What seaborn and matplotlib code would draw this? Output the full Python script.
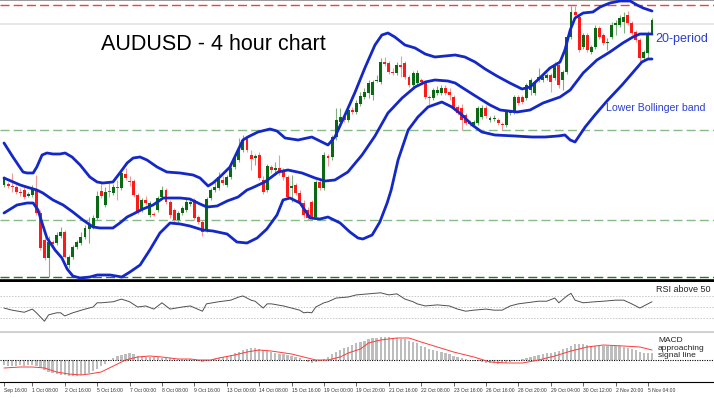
import matplotlib
matplotlib.use("Agg")
import matplotlib.pyplot as plt
import seaborn as sns
import numpy as np

# 4h candles, prices as pips above 0.7000
opens = [115, 116, 114, 113, 108, 110, 104, 105, 111, 87,
         60, 42, 58, 57, 64, 68, 35, 43, 53, 57,
         63, 71, 73, 82, 109, 95, 109, 107, 113, 112,
         126, 119, 119, 105, 90, 100, 85, 86, 90, 103,
         110, 98, 90, 80, 87, 90, 96, 100, 83, 78,
         70, 102, 110, 112, 120, 115, 123, 133, 140, 150,
         161, 145, 142, 145, 120, 110, 133, 130, 132, 130,
         123, 112, 115, 107, 97, 90, 98, 83, 118, 112,
         144, 143, 163, 178, 183, 180, 190, 188, 196, 203,
         207, 205, 219, 218, 238, 237, 228, 227, 235, 237,
         223, 215, 217, 220, 217, 203, 202, 207, 207, 212,
         208, 203, 193, 192, 185, 178, 175, 177, 183, 192,
         180, 181, 180, 176, 175, 187, 188, 203, 203, 202,
         210, 207, 220, 220, 222, 225, 222, 235, 220, 228,
         263, 288, 283, 253, 265, 248, 253, 272, 265, 257,
         263, 275, 275, 278, 285, 277, 268, 260, 242, 247,
         267]
closes = [122, 114, 113, 108, 107, 103, 106, 112, 87, 52,
          42, 58, 56, 65, 68, 43, 43, 53, 58, 63,
          72, 76, 82, 104, 104, 108, 108, 113, 112, 127,
          122, 118, 105, 88, 100, 97, 97, 85, 102, 110,
          98, 85, 80, 87, 92, 98, 98, 82, 78, 68,
          101, 110, 113, 123, 117, 123, 132, 142, 151, 160,
          150, 141, 144, 122, 108, 134, 130, 132, 128, 123,
          103, 114, 107, 97, 85, 82, 83, 118, 112, 145,
          142, 163, 180, 183, 180, 190, 188, 197, 204, 208,
          217, 218, 220, 238, 236, 228, 227, 235, 233, 223,
          215, 227, 227, 218, 203, 202, 210, 210, 212, 207,
          205, 192, 187, 180, 177, 176, 178, 192, 192, 184,
          182, 182, 177, 175, 188, 188, 203, 197, 198, 215,
          220, 218, 223, 223, 225, 218, 235, 215, 228, 263,
          288, 285, 250, 265, 250, 253, 272, 263, 257, 258,
          275, 277, 282, 283, 277, 267, 260, 242, 248, 267,
          280]
highs = [124, 118, 127, 115, 112, 113, 108, 115, 125, 90,
         62, 64, 60, 68, 73, 70, 45, 55, 60, 68,
         75, 83, 85, 109, 118, 113, 117, 116, 120, 130,
         132, 124, 121, 107, 102, 104, 99, 88, 104, 114,
         112, 100, 92, 89, 94, 101, 101, 102, 85, 80,
         103, 112, 121, 128, 124, 125, 134, 145, 162, 165,
         164, 150, 146, 148, 124, 136, 135, 138, 145, 132,
         125, 125, 117, 110, 100, 93, 100, 120, 120, 148,
         146, 165, 192, 192, 187, 192, 193, 200, 208, 212,
         220, 220, 225, 242, 243, 239, 232, 238, 244, 239,
         225, 229, 230, 222, 219, 205, 212, 214, 215, 215,
         212, 205, 195, 196, 187, 180, 180, 194, 195, 195,
         184, 185, 182, 178, 190, 190, 205, 205, 205, 217,
         222, 220, 232, 225, 227, 227, 238, 237, 230, 265,
         294, 294, 285, 267, 267, 255, 275, 274, 267, 262,
         278, 280, 285, 288, 289, 279, 270, 262, 250, 269,
         282]
lows = [113, 112, 108, 106, 104, 101, 103, 103, 85, 50,
        40, 23, 54, 55, 62, 42, 32, 41, 51, 55,
        61, 57, 71, 80, 102, 93, 103, 105, 100, 110,
        120, 114, 103, 86, 88, 95, 83, 84, 88, 101,
        96, 82, 78, 78, 85, 88, 94, 80, 76, 64,
        68, 100, 108, 110, 115, 113, 121, 131, 138, 148,
        148, 130, 135, 120, 106, 108, 127, 125, 125, 120,
        101, 98, 105, 95, 82, 80, 81, 81, 110, 110,
        134, 140, 160, 176, 178, 178, 186, 186, 194, 201,
        202, 200, 218, 216, 234, 226, 225, 225, 223, 221,
        213, 213, 215, 216, 201, 195, 200, 205, 205, 205,
        200, 190, 185, 170, 175, 174, 173, 175, 181, 182,
        178, 179, 175, 170, 173, 185, 186, 195, 196, 200,
        205, 205, 218, 218, 220, 208, 220, 212, 210, 226,
        261, 283, 248, 251, 248, 246, 251, 261, 255, 250,
        261, 265, 273, 267, 275, 265, 258, 238, 240, 242,
        265]

# Bollinger bands, read at candle positions
upper_idx = [0, 2.2, 4.7, 5.7, 7.2, 8.1, 9.4, 10.6, 12.1, 13.8, 15.1, 16.8, 18.8, 21.2, 23, 24.4,
             26.9, 28.6, 30.4, 31.9, 33.6, 35.3, 37.8, 40.2, 43.5, 46.7, 48.4, 50.4, 51.6, 53.3,
             55.8, 57.8, 59, 60.2, 62.7, 65.7, 67.4, 69.4, 72.6, 76, 78.5, 80, 81.7, 84.2, 86.7,
             89.1, 91.6, 93.3, 94.8, 96.5, 99, 101.5, 104, 106.4, 108.9, 111.4, 113.8, 116.3,
             118.8, 121.7, 124.9, 127.9, 129.9, 132.3, 134.8, 137.3, 138.5, 139.8, 141, 143,
             145.4, 147.2, 149.6, 152.1, 154.6, 156.3, 157.8, 160]
upper_pips = [157, 143, 128, 127, 127, 133, 145, 147, 146, 146, 147, 143, 135, 123, 118, 117,
              118, 127, 137, 142, 143, 140, 133, 128, 127, 125, 122, 114, 117, 123,
              133, 150, 160, 163, 168, 171, 169, 162, 160, 163, 158, 155, 163, 185, 208,
              232, 255, 265, 267, 263, 255, 252, 246, 243, 244, 245, 243, 238,
              231, 224, 217, 211, 213, 222, 232, 238, 250, 270, 282, 287,
              288, 293, 297, 299, 299, 295, 292, 289]
mid_idx = [0, 4, 6.4, 8.1, 9.6, 12.1, 14.6, 17, 19.5, 22, 23.7, 26.9, 28.6, 30.4, 31.9, 34.3,
           36.8, 39.3, 41, 43.5, 45.9, 48.4, 50.1, 52.6, 55.1, 57.8, 60, 61.2, 64.4, 67.7,
           70.1, 73.6, 76.8, 79.3, 81.7, 84.9, 88.4, 91.6, 94.8, 98.3, 101.5, 104, 106.4,
           109.6, 111.4, 113.3, 116.8, 120, 122.5, 126.7, 129.9, 133.1, 137.3, 139.8, 143,
           146.4, 149.6, 152.8, 155.3, 157, 160]
mid_pips = [122, 115, 112, 110, 107, 100, 95, 88, 80, 73, 72, 72, 77, 83, 86, 91,
            95, 102, 102, 102, 101, 96, 93, 94, 99, 103, 110, 112, 118, 128,
            130, 127, 122, 119, 120, 128, 145, 164, 187, 202, 213, 218, 220,
            219, 217, 212, 203, 195, 190, 188, 190, 197, 203, 210, 227,
            240, 248, 257, 263, 266, 266]
lower_idx = [0, 3.2, 5.7, 7.2, 8.4, 9.4, 10.6, 12.6, 14.3, 15.6, 17, 18.8, 21.2, 23, 26.2,
             29.1, 31.1, 33.6, 36, 38.5, 41, 43.5, 45.9, 49.1, 51.6, 55.1, 57.5, 60, 62.5,
             64.9, 67.4, 68.9, 70.6, 73.1, 75.6, 78, 80, 83, 85.4, 87.4, 88.6, 90.9, 92.8,
             94.6, 95.6, 97.3, 99.8, 102.2, 104.7, 108.1, 110.6, 113.1, 115.6, 118, 121.2,
             126.2, 130.4, 133.6, 136.8, 138.5, 139.8, 141, 143.5, 145.9, 149.1, 152.6,
             155.8, 157.5, 159, 160]
lower_pips = [87, 95, 97, 97, 90, 77, 62, 50, 42, 31, 24, 22, 23, 25, 25,
              23, 28, 35, 50, 67, 77, 76, 74, 70, 69, 66, 58, 57, 62,
              71, 85, 100, 102, 97, 82, 81, 83, 77, 68, 62, 61, 65, 78,
              97, 110, 140, 170, 183, 193, 198, 193, 185, 175, 168, 165,
              164, 163, 163, 164, 165, 160, 158, 173, 185, 200, 215,
              230, 238, 241, 241]

# RSI
rsi_idx = [0, 2, 5, 7, 8, 10, 11, 13, 14, 15, 17, 20, 22, 23, 24, 27, 29, 31, 33, 35, 37, 39, 41,
           44, 46, 49, 50, 53, 56, 58, 59, 61, 62, 64, 65, 66, 69, 71, 73, 74, 75, 76, 77, 79,
           80, 82, 85, 87, 90, 93, 95, 97, 99, 101, 102, 104, 107, 110, 112, 114, 116, 119,
           121, 123, 125, 127, 129, 132, 134, 136, 137, 139, 140, 141, 143, 146, 148, 151,
           153, 155, 157, 158, 160]
rsi_vals = [48, 44, 40, 46, 39, 23, 35, 39, 39, 33, 39, 46, 50, 58, 58, 60, 65, 60, 50, 52, 46, 58, 46,
            50, 52, 42, 56, 60, 63, 69, 71, 63, 61, 48, 56, 56, 52, 48, 44, 39, 40, 39, 50, 58,
            60, 67, 69, 73, 75, 77, 73, 75, 65, 60, 56, 52, 54, 52, 46, 42, 44, 46,
            44, 44, 52, 56, 58, 61, 61, 67, 58, 71, 76, 63, 58, 60, 61, 63,
            63, 56, 48, 52, 60]

# MACD histogram (one bar per candle) and signal line
macd_hist = [-5, -6, -6, -6, -5, -6, -5, -5, -6,
             -8, -10, -12, -13, -14, -15, -15, -16, -16, -16, -15, -14, -13, -11, -9, -6, -4, -1,
             2, 4, 5, 6, 7, 6, 4, 4, 3, 3, 3, 3, 2, 2, 2, 1, 1, 1, 1, 1,
             0, -1, -2, -1, 0, 1, 2, 3, 4, 5,
             7, 8, 10, 11, 12, 12, 11, 10, 9, 8, 7, 6, 6, 5, 4, 3, 2, 0, -2, -3, -2, -1,
             1, 3, 6, 8, 10, 12, 13, 15, 17, 18, 19, 21, 22, 22, 23, 23, 23, 22, 22, 21, 21,
             19, 18, 17, 14, 13, 11, 10, 9, 8, 7, 6, 4, 3, 2, 1, 0, -1, -1, -2, -3, -3, -3, -4,
             -3, -3, -2, -1,
             0, 1, 2, 3, 4, 5, 6, 7, 7, 8, 9, 11, 12, 14, 16, 16, 16, 15, 14, 14, 14, 14, 14,
             14, 14, 14, 13, 12, 11, 10, 8, 7, 7, 7]
signal_idx = [0, 4, 7, 10, 13, 16, 19, 21, 24, 27, 30, 33, 36, 39, 43, 46, 48, 51, 53, 57, 60, 63,
              66, 71, 75, 77, 80, 83, 85, 88, 90, 93, 97, 100, 103, 107, 111, 116, 120, 124,
              128, 132, 136, 140, 144, 148, 153, 157, 160]
signal_vals = [-8, -7, -7, -8, -12, -14, -15, -14, -12, -6, 0, 3, 4, 3, 1, 1, 0, 0, 2, 5, 8, 10,
               9, 6, 2, 0, 0, 3, 7, 11, 17, 20, 22, 22, 18, 13, 8, 3, -2, -3,
               -3, 0, 4, 9, 13, 15, 14, 13, 10]

tick_idx = [0, 7, 15, 23, 31, 39, 47, 55, 63, 71, 79, 87, 95, 103, 111, 119, 127, 135, 143, 151, 159]
tick_labels = ["Sep 16:00", "1 Oct 08:00", "2 Oct 16:00", "5 Oct 16:00", "7 Oct 00:00",
               "8 Oct 08:00", "9 Oct 16:00", "13 Oct 00:00", "14 Oct 08:00", "15 Oct 16:00",
               "19 Oct 00:00", "19 Oct 20:00", "21 Oct 16:00", "22 Oct 08:00", "23 Oct 16:00",
               "26 Oct 16:00", "28 Oct 20:00", "29 Oct 04:00", "30 Oct 12:00", "2 Nov 20:00",
               "5 Nov 04:00"]

sns.set_theme(style="white")
plt.rcParams["font.family"] = ["Liberation Sans", "DejaVu Sans"]

GREEN = "#0a6a14"
RED = "#ff1a1a"
BLUE = "#1428c8"

fig = plt.figure(figsize=(7.14, 3.98), dpi=100)
ax = fig.add_axes([0, 1 - 281 / 398, 1, 281 / 398])
ax_rsi = fig.add_axes([0, 1 - 332 / 398, 1, 50 / 398])
ax_macd = fig.add_axes([0, 1 - 382 / 398, 1, 49 / 398])

xlim = (-4 / 4.05, 710 / 4.05)
idx = np.arange(len(closes))
o = np.array(opens)
c = np.array(closes)
up = c >= o

# reference levels
ax.axhline(295, color="#f04040", lw=1, dashes=(6.5, 3))
ax.axhline(276, color="#e4e4e4", lw=1.2)
ax.axhline(170, color="#88bb88", lw=1, dashes=(6.5, 3))
ax.axhline(80, color="#88bb88", lw=1, dashes=(6.5, 3))
ax.axhline(23, color="#2f6f2f", lw=1, dashes=(6.5, 3))

# candles
wick_cols = np.where(up, "#7fae7f", "#f29a9a")
ax.vlines(idx, lows, highs, colors=wick_cols, lw=0.8, zorder=2)
ax.bar(idx, np.abs(c - o), bottom=np.minimum(o, c), width=0.72,
       color=np.where(up, GREEN, RED), zorder=3, linewidth=0)

# bands
for bx, by in [(upper_idx, upper_pips), (mid_idx, mid_pips), (lower_idx, lower_pips)]:
    sns.lineplot(x=bx, y=by, ax=ax, color=BLUE, lw=2, zorder=4)

ax.set_xlim(*xlim)
ax.set_ylim(19, 300)
ax.set_xticks([])
ax.set_yticks([])
for s in ["left", "right"]:
    ax.spines[s].set_visible(False)
ax.spines["top"].set_color("#888888")
ax.spines["top"].set_linewidth(1.2)
ax.spines["bottom"].set_color("black")
ax.spines["bottom"].set_linewidth(2.6)

# RSI panel
for lvl in [70, 50, 30]:
    ax_rsi.axhline(lvl, color="#c8c8c8", lw=0.7, ls=(0, (1.5, 1.5)))
sns.lineplot(x=rsi_idx, y=rsi_vals, ax=ax_rsi, color="#505050", lw=0.7)
ax_rsi.set_xlim(*xlim)
ax_rsi.set_ylim(2.5, 97.5)
ax_rsi.set_xticks([])
ax_rsi.set_yticks([])
for s in ["left", "right", "top"]:
    ax_rsi.spines[s].set_visible(False)
ax_rsi.spines["bottom"].set_color("#cfcfcf")
ax_rsi.spines["bottom"].set_linewidth(2)

# MACD panel
ax_macd.bar(idx, macd_hist, width=0.55, color="#bdbdbd", linewidth=0)
ax_macd.axhline(0, color="black", lw=0.8, ls=(0, (1, 1.2)))
sns.lineplot(x=signal_idx, y=signal_vals, ax=ax_macd, color="#ff3a3a", lw=0.7)
ax_macd.set_xlim(*xlim)
ax_macd.set_ylim(-22, 27)
ax_macd.set_yticks([])
for s in ["left", "right", "top"]:
    ax_macd.spines[s].set_visible(False)
ax_macd.spines["bottom"].set_color("black")
ax_macd.spines["bottom"].set_linewidth(0.8)
ax_macd.set_xticks(tick_idx)
ax_macd.set_xticklabels(tick_labels, fontsize=3.6, color="#333333")
plt.setp(ax_macd.get_xticklabels(), ha="left")
ax_macd.tick_params(axis="x", bottom=True, direction="out", length=3, width=0.5, pad=1)

# annotations (kept inside the figure edge)
fig.text(101 / 714, 1 - 49.5 / 398, "AUDUSD - 4 hour chart", fontsize=15.5, color="black")
fig.text(655 / 714, 1 - 39 / 398, "20-period", fontsize=9, color="#2a3fcf", va="center")
fig.text(606 / 714, 1 - 108 / 398, "Lower Bollinger band", fontsize=7.6, color="#2a3fcf", va="center")
fig.text(656 / 714, 1 - 289 / 398, "RSI above 50", fontsize=6.5, color="#222222", va="center")
fig.text(658 / 714, 1 - 348 / 398, "MACD\napproaching\nsignal line", fontsize=6,
         color="#222222", va="center", linespacing=1.05)

fig.savefig("out.png", dpi=100)
